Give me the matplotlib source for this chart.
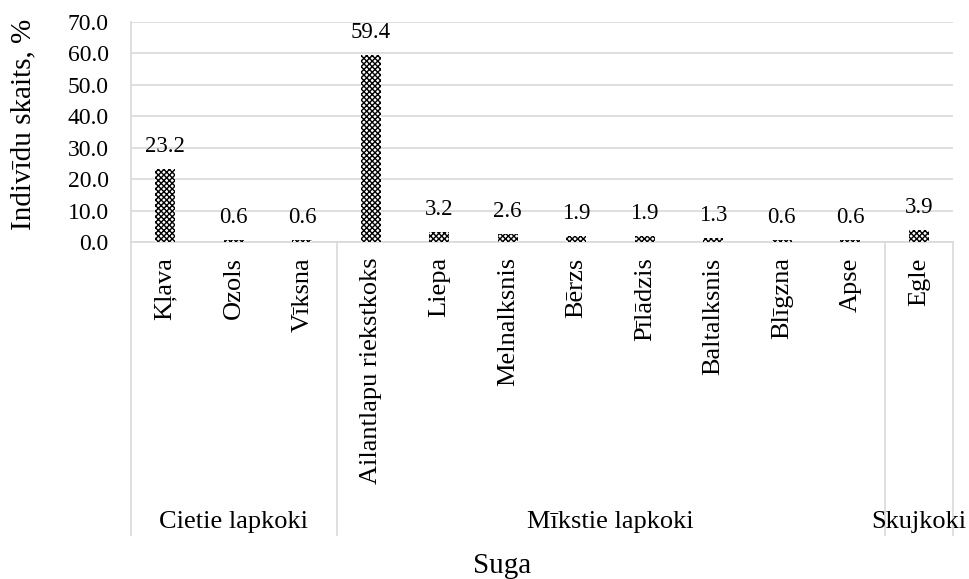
import matplotlib

matplotlib.use("Agg")
import matplotlib.pyplot as plt
import numpy as np

species = ["Kļava", "Ozols", "Vīksna", "Ailantlapu riekstkoks", "Liepa",
           "Melnalksnis", "Bērzs", "Pīlādzis", "Baltalksnis", "Blīgzna",
           "Apse", "Egle"]
share = [23.2, 0.6, 0.6, 59.4, 3.2, 2.6, 1.9, 1.9, 1.3, 0.6, 0.6, 3.9]
groups = ["Cietie lapkoki", "Mīkstie lapkoki", "Skujkoki"]
group_sizes = [3, 8, 1]

plt.rcParams["font.family"] = ["Liberation Serif", "DejaVu Serif"]
plt.rcParams["hatch.linewidth"] = 1.0
plt.rcParams["hatch.color"] = "black"

W, H = 969, 579
fig = plt.figure(figsize=(W / 100, H / 100), dpi=100)
left, right, top, bottom = 131, 953, 22, 242
ax = fig.add_axes([left / W, 1 - bottom / H, (right - left) / W, (bottom - top) / H])

grid_c = "#d9d9d9"
x = np.arange(len(species))
ax.bar(x, share, width=0.29, color="white", edgecolor="black",
       hatch="xxxxxx", linewidth=0, zorder=3)
for xi, v in zip(x, share):
    ax.annotate(f"{v:.1f}", (xi, v), textcoords="offset pixels", xytext=(0, 17),
                ha="center", va="baseline", fontsize=16.5)

ax.set_xlim(-0.5, len(species) - 0.5)
ax.set_ylim(0, 70)
yt = np.arange(0, 71, 10)
ax.set_yticks(yt)
ax.set_yticklabels([f"{t:.1f}" for t in yt], fontsize=17)
ax.yaxis.grid(True, color=grid_c, lw=1.2, zorder=0)
ax.tick_params(axis="y", length=0, pad=16)
ax.tick_params(axis="x", length=0, pad=11)
ax.set_xticks(x)
ax.set_xticklabels(species, rotation=90, fontsize=19, va="top")
for s in ["top", "right"]:
    ax.spines[s].set_visible(False)
for s in ["bottom", "left"]:
    ax.spines[s].set_color(grid_c)
    ax.spines[s].set_linewidth(1.2)

# group separators and labels below the axis
span = bottom - top
depth = (535 - bottom) / span
trans = ax.get_xaxis_transform()
edges = np.concatenate([[0], np.cumsum(group_sizes)]) - 0.5
for e in edges:
    ax.plot([e, e], [0, -depth], transform=trans, color=grid_c, lw=1.2,
            clip_on=False)
label_y = -(528 - bottom) / span
for g, a, b in zip(groups, edges[:-1], edges[1:]):
    ax.text((a + b) / 2, label_y, g, transform=trans, ha="center",
            va="baseline", fontsize=19)

fig.text(23 / W, 1 - 124 / H, "Indivīdu skaits, %", rotation=90,
         ha="center", va="center", fontsize=21)
fig.text(502 / W, 1 - 573 / H, "Suga", ha="center", va="baseline",
         fontsize=21)

fig.savefig("out.png", dpi=100)
